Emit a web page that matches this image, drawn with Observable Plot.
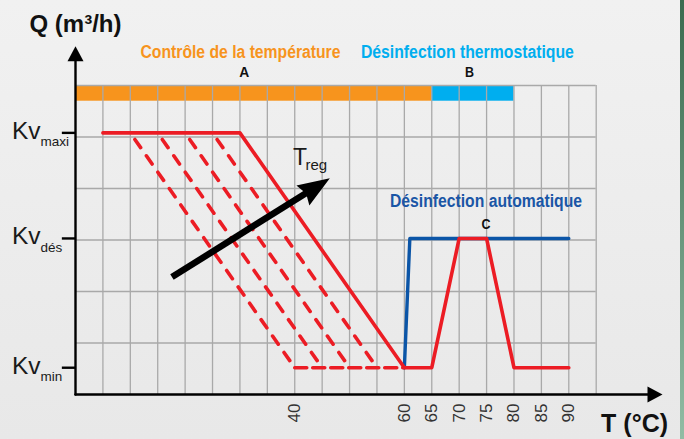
<!DOCTYPE html>
<html><head><meta charset="utf-8">
<script src="https://cdn.jsdelivr.net/npm/d3@7"></script>
<script src="https://cdn.jsdelivr.net/npm/@observablehq/plot@0.6"></script>
<style>
html,body{margin:0;padding:0;background:#efefef;}
#wrap{position:relative;width:684px;height:439px;overflow:hidden;background:linear-gradient(#f1f1f1,#e8e8e8);}
#stripe{position:absolute;right:0;top:0;width:4px;height:439px;background:linear-gradient(#3b6b4f,#92bca4);}
svg{position:absolute;left:0;top:0;}
</style></head><body><div id="wrap"><div id="stripe"></div></div>
<script>
// ---- data ----
const xTicks = [40, 60, 65, 70, 75, 80, 85, 90];
const gridXValues = [5,10,15,20,25,30,35,40,45,50,55,60,65,70,75,80,85,90,95];
const gridYValues = [1,2,3,4,5,6];
const kvNames = ["maxi", "dés", "min"];
const kvValues = [5.08, 3.03, 0.52];
const KV = Object.fromEntries(kvNames.map((n, i) => [n, kvValues[i]]));

// phases (bar at top)
const phaseNames = ["Contrôle de la température", "Désinfection thermostatique"];
const phaseLetters = ["A", "B"];
const phaseStart = [0, 65];
const phaseEnd = [65, 80];

// main control curve (solid red)
const controlT = [5, 30, 60, 65, 70, 75, 80, 90];
const controlQ = ["maxi", "maxi", "min", "min", "dés", "dés", "min", "min"];
// automatic disinfection (blue)
const autoT = [60, 61, 90];
const autoQ = ["min", "dés", "dés"];
// dashed family (lower set points)
const dashStartT = [10, 15, 20, 25];
const dashEndT = [40, 45, 50, 55];
const dashBaseT = [40, 60];

// T_reg arrow
const arrowFrom = [17.6, 2.28];
const arrowTo = [46.4, 4.2];

// ---- annotations (data coordinates) ----
const axisTopY = 6.76, axisRightX = 107.1;
const barBottom = 5.695, barTop = 6;

const controlData = controlT.map((t, i) => ({T: t, Q: KV[controlQ[i]]}));
const autoData = autoT.map((t, i) => ({T: t, Q: KV[autoQ[i]]}));
const dashData = dashStartT.flatMap((t, i) => [
  {id: i, T: t, Q: KV.maxi}, {id: i, T: dashEndT[i], Q: KV.min}
]);
const dashBase = dashBaseT.map(t => ({T: t, Q: KV.min}));
const phases = phaseNames.map((n, i) => ({name: n, letter: phaseLetters[i], start: phaseStart[i], end: phaseEnd[i]}));
const kvData = kvNames.map((n, i) => ({name: n, value: kvValues[i]}));

const head = (L, W) => ({draw(ctx) { ctx.moveTo(0, 0); ctx.lineTo(W / 2, L); ctx.lineTo(0, L * 0.88); ctx.lineTo(-W / 2, L); ctx.closePath(); }});
const tri = (L, W) => ({draw(ctx) { ctx.moveTo(0, 0); ctx.lineTo(W / 2, L); ctx.lineTo(-W / 2, L); ctx.closePath(); }});

const RED = "#ec1c24", ORANGE = "#f7941d", CYAN = "#00aeef", BLUE = "#0b55a7", DBLUE = "#1a56a6";
const SANS = "'Liberation Sans',Arial,Helvetica,sans-serif";

const chart = Plot.plot({
  width: 684, height: 439,
  marginLeft: 75, marginRight: 88.3, marginTop: 85, marginBottom: 45,
  x: {domain: [0, 95], axis: null},
  y: {domain: [0, 6], axis: null},
  style: {background: "transparent", fontFamily: SANS},
  marks: [
    // top phase bar
    Plot.rect(phases, {x1: "start", x2: "end", y1: barBottom, y2: barTop, fill: (d, i) => i === 0 ? ORANGE : CYAN}),
    // grid
    Plot.ruleX(gridXValues, {y1: 0, y2: 6, stroke: "#a9a9a9", strokeWidth: 1.3}),
    Plot.ruleY(gridYValues, {x1: 0, x2: 95, stroke: "#a9a9a9", strokeWidth: 1.3}),
    // dashed family
    Plot.line(dashData, {x: "T", y: "Q", z: "id", stroke: RED, strokeWidth: 3.6, strokeDasharray: "10,10", strokeDashoffset: 12}),
    Plot.line(dashBase, {x: "T", y: "Q", stroke: RED, strokeWidth: 3.6, strokeDasharray: "12,6"}),
    // blue automatic disinfection
    Plot.line(autoData, {x: "T", y: "Q", stroke: BLUE, strokeWidth: 3.4}),
    // red control curve
    Plot.line(controlData, {x: "T", y: "Q", stroke: RED, strokeWidth: 3.6}),
    // T_reg arrow
    Plot.arrow([{x1: arrowFrom[0], y1: arrowFrom[1], x2: arrowTo[0], y2: arrowTo[1]}],
      {x1: "x1", y1: "y1", x2: "x2", y2: "y2", stroke: "black", strokeWidth: 6.5, headLength: 0, insetEnd: 24, strokeLinecap: "butt"}),
    Plot.dot([{x: arrowTo[0], y: arrowTo[1]}], {x: "x", y: "y", symbol: head(32, 24), r: 5, fill: "black", stroke: "none", rotate: 57.3}),
    // axes lines and heads
    Plot.line([{x: 0, y: 0}, {x: 0, y: axisTopY - 0.2}], {x: "x", y: "y", stroke: "black", strokeWidth: 2.4}),
    Plot.line([{x: 0, y: 0}, {x: axisRightX - 2, y: 0}], {x: "x", y: "y", stroke: "black", strokeWidth: 2.4}),
    Plot.dot([{x: 0, y: axisTopY}], {x: "x", y: "y", symbol: tri(15, 16), r: 5, fill: "black", stroke: "none"}),
    Plot.dot([{x: axisRightX, y: 0}], {x: "x", y: "y", symbol: tri(15, 16), r: 5, fill: "black", stroke: "none", rotate: 90}),
    // Kv ticks and labels
    Plot.ruleY(kvData, {y: "value", x1: -2.4, x2: 0, stroke: "black", strokeWidth: 2.4}),
    Plot.text(kvData, {y: "value", frameAnchor: "left", dx: -35, dy: 6, text: () => "Kv", textAnchor: "end", lineAnchor: "bottom", fontSize: 24.5, fill: "#1a1a1a"}),
    Plot.text(kvData, {y: "value", frameAnchor: "left", dx: -35, dy: 13.5, text: "name", textAnchor: "start", lineAnchor: "bottom", fontSize: 13.5, fill: "#1a1a1a"}),
    // x tick labels
    Plot.axisX({ticks: xTicks, tickRotate: -90, tickSize: 0, tickPadding: 9, fontSize: 17, fill: "#333"}),
    // axis titles
    Plot.text(["Q (m³/h)"], {x: 0, y: 7.03, text: d => d, textAnchor: "middle", lineAnchor: "bottom", fontSize: 24, fontWeight: "bold", fill: "#111"}),
    Plot.text(["T (°C)"], {x: 102, y: -0.73, text: d => d, textAnchor: "middle", lineAnchor: "bottom", fontSize: 25, fontWeight: "bold", fill: "#111"}),
    // phase labels (condensed bold)
    Plot.text([phases[0]], {x: 30.1, y: 6.54, text: "name", fontWeight: "bold", fontSize: 17.5, fill: ORANGE, lineAnchor: "bottom", className: "narrow-200"}),
    Plot.text([phases[1]], {x: 71.5, y: 6.54, text: "name", fontWeight: "bold", fontSize: 17.5, fill: CYAN, lineAnchor: "bottom", className: "narrow-213"}),
    Plot.text([phases[0]], {x: 30.8, y: 6.17, text: "letter", fontWeight: "bold", fontSize: 15.5, fill: "#111", lineAnchor: "bottom", className: "narrow-10"}),
    Plot.text([phases[1]], {x: 71.9, y: 6.17, text: "letter", fontWeight: "bold", fontSize: 15.5, fill: "#111", lineAnchor: "bottom", className: "narrow-9"}),
    Plot.text(["Désinfection automatique"], {x: 74.9, y: 3.65, text: d => d, fontWeight: "bold", fontSize: 17.5, fill: DBLUE, lineAnchor: "bottom", className: "narrow-192"}),
    Plot.text(["C"], {x: 74.9, y: 3.22, text: d => d, fontWeight: "bold", fontSize: 15.5, fill: "#111", lineAnchor: "bottom", className: "narrow-9"}),
    // T_reg label
    Plot.text(["T"], {x: 39.7, y: 4.45, text: d => d, textAnchor: "start", lineAnchor: "bottom", fontSize: 23, fill: "#1a1a1a"}),
    Plot.text(["reg"], {x: 41.96, y: 4.35, text: d => d, textAnchor: "start", lineAnchor: "bottom", fontSize: 15, fill: "#1a1a1a"})
  ]
});
// condense bold labels to the reference widths
d3.select(chart).selectAll("g[class^='narrow-'] text").each(function () {
  const w = +this.parentNode.getAttribute("class").match(/narrow-(\d+)/)[1];
  d3.select(this).attr("textLength", w).attr("lengthAdjust", "spacingAndGlyphs");
});
document.getElementById("wrap").appendChild(chart);
</script>
</body></html>
